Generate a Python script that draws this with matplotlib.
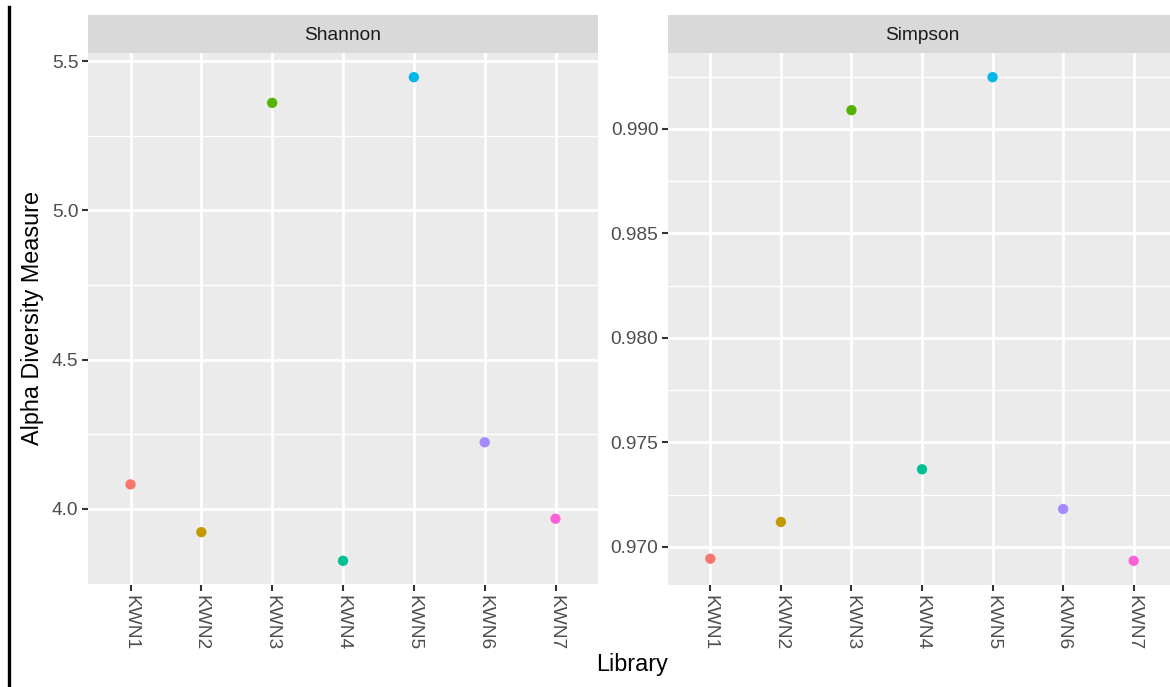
import matplotlib.pyplot as plt
from matplotlib.lines import Line2D
from matplotlib.patches import Rectangle
from matplotlib.ticker import MultipleLocator

plt.rcParams['font.family'] = ['Liberation Sans', 'DejaVu Sans']

libraries = ['KWN1', 'KWN2', 'KWN3', 'KWN4', 'KWN5', 'KWN6', 'KWN7']
shannon = [4.082, 3.922, 5.360, 3.826, 5.446, 4.223, 3.967]
simpson = [0.96943, 0.97119, 0.99090, 0.97371, 0.99248, 0.97181, 0.96933]
colors = ['#F8766D', '#C49A00', '#53B400', '#00C094', '#00B6EB', '#A58AFF', '#FB61D7']

W, H = 1170, 687
fig = plt.figure(figsize=(W / 100, H / 100), dpi=100)


def px_axes(left, top, right, bottom):
    return fig.add_axes([left / W, 1 - bottom / H, (right - left) / W, (bottom - top) / H])


def facet(left, right, values, title, major, minor, fmt):
    ax = px_axes(left, 53, right, 585)
    ax.set_facecolor('#EBEBEB')
    x = range(len(libraries))
    ax.scatter(x, values, c=colors, s=55, zorder=3, linewidths=0)
    lo, hi = min(values), max(values)
    pad = (hi - lo) * 0.05
    ax.set_ylim(lo - pad, hi + pad)
    ax.set_xlim(-0.6, len(libraries) - 0.4)
    ax.set_xticks(list(x))
    ax.set_xticklabels(libraries, rotation=270, va='top', ha='center')
    ax.yaxis.set_major_locator(MultipleLocator(major))
    ax.yaxis.set_minor_locator(MultipleLocator(minor))
    ax.yaxis.set_major_formatter(fmt)
    ax.grid(which='major', color='white', lw=2.0)
    ax.grid(which='minor', axis='y', color='white', lw=1.0)
    ax.set_axisbelow(True)
    for s in ax.spines.values():
        s.set_visible(False)
    ax.tick_params(which='major', length=4.5, width=1.5, color='#333333',
                   labelsize=13.8, labelcolor='#4D4D4D', pad=2.5)
    ax.tick_params(which='minor', length=0)
    # grey strip with the facet name
    sx = px_axes(left, 15, right, 53)
    sx.add_patch(Rectangle((0, 0), 1, 1, color='#D9D9D9', transform=sx.transAxes))
    sx.axis('off')
    sx.text(0.5, 0.46, title, ha='center', va='center', fontsize=13.8,
            color='#1A1A1A', transform=sx.transAxes)
    return ax


ax1 = facet(88, 598, shannon, 'Shannon', 0.5, 0.25, '{x:.1f}')
ax2 = facet(668, 1176, simpson, 'Simpson', 0.005, 0.0025, '{x:.3f}')

fig.text(33 / W, 1 - 318 / H, 'Alpha Diversity Measure', rotation=90,
         ha='center', va='center', fontsize=16.8, color='black')
fig.text(632 / W, 1 - 665 / H, 'Library', ha='center', va='center',
         fontsize=16.8, color='black')

fig.add_artist(Line2D([9 / W, 9 / W], [0, 1 - 7 / H], color='black', lw=2.4))

fig.savefig('out.png', dpi=100)
